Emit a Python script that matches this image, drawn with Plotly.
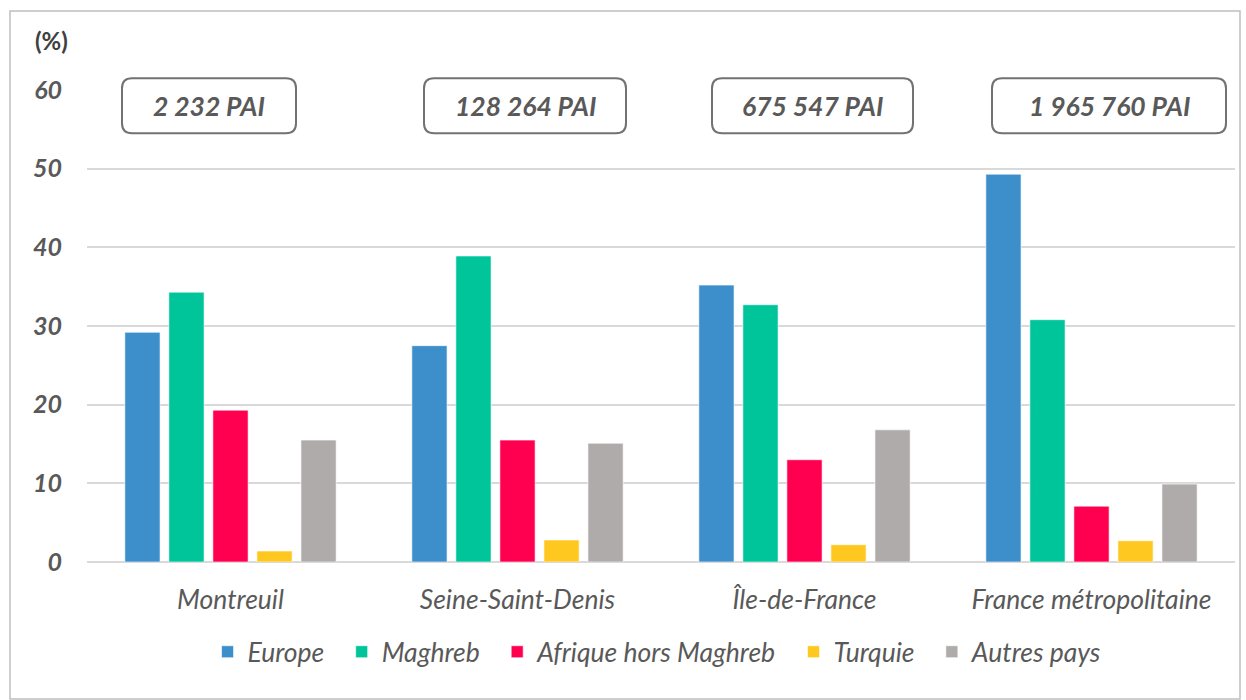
import plotly.graph_objects as go

# Population data: share of immigrants (PAI) by origin, in %
territoires = ["Montreuil", "Seine-Saint-Denis", "Île-de-France", "France métropolitaine"]
effectifs = ["2 232 PAI", "128 264 PAI", "675 547 PAI", "1 965 760 PAI"]

europe = [29.2, 27.5, 35.2, 49.3]
maghreb = [34.3, 38.9, 32.7, 30.8]
afrique = [19.3, 15.5, 13.0, 7.1]
turquie = [1.4, 2.8, 2.2, 2.7]
autres = [15.5, 15.1, 16.8, 9.9]

series = [
    ("Europe", europe, "#3D8FCB"),
    ("Maghreb", maghreb, "#00C49A"),
    ("Afrique hors Maghreb", afrique, "#FF0050"),
    ("Turquie", turquie, "#FFC820"),
    ("Autres pays", autres, "#AFABAA"),
]

W, H = 1246, 700
ML, MR, MT, MB = 87, 11, 90, 138
PW, PH = W - ML - MR, H - MT - MB

FONT = "Lato, 'Open Sans', sans-serif"
GREY = "#595959"
PAD = "\u00a0\u00a0"  # extra spacing between legend entries

fig = go.Figure()
for k, (name, vals, col) in enumerate(series):
    fig.add_trace(go.Bar(
        x=territoires, y=vals, name=name + (PAD if k < len(series) - 1 else ""),
        marker=dict(color=col, line=dict(color="rgba(255,255,255,0.6)", width=1)),
    ))


def px_x(p):
    return (p - ML) / PW


def px_y(p):
    return (H - MB - p) / PH


shapes = []
# outer frame of the chart
shapes.append(dict(type="rect", xref="paper", yref="paper",
                   x0=px_x(10), x1=px_x(1240), y0=px_y(699), y1=px_y(11),
                   line=dict(color="#BFBFBF", width=1.5), fillcolor="rgba(0,0,0,0)",
                   layer="below"))

# rounded boxes with population counts above each group
box_w = [174, 202, 201, 234]
box_dx = [-21.5, 7.5, 8, 17.5]
box_h = 55
box_cy = 58.0
annotations = []
n = len(territoires)
for i, label in enumerate(effectifs):
    w, h, r = box_w[i], box_h, 10
    x0, x1 = -w / 2, w / 2
    y0, y1 = -h / 2, h / 2
    path = (f"M{x0 + r},{y0} L{x1 - r},{y0} Q{x1},{y0} {x1},{y0 + r} "
            f"L{x1},{y1 - r} Q{x1},{y1} {x1 - r},{y1} L{x0 + r},{y1} "
            f"Q{x0},{y1} {x0},{y1 - r} L{x0},{y0 + r} Q{x0},{y0} {x0 + r},{y0} Z")
    cx = (i + 0.5) / n + box_dx[i] / PW
    cy = box_cy / 60
    shapes.append(dict(type="path", xref="paper", yref="paper",
                       xsizemode="pixel", ysizemode="pixel",
                       xanchor=cx, yanchor=cy, path=path,
                       line=dict(color="#767171", width=2), fillcolor="white",
                       layer="above"))
    annotations.append(dict(x=cx, y=cy, xref="paper", yref="paper", text=f"<b><i>{label}</i></b>",
                            xanchor="center", yanchor="middle", showarrow=False,
                            font=dict(family=FONT, size=26.5, color=GREY)))

annotations.append(dict(x=px_x(33), y=px_y(40), xref="paper", yref="paper", text="<b>(%)</b>",
                        showarrow=False, xanchor="left", yanchor="middle",
                        font=dict(family=FONT, size=24, color="#404040")))

fig.update_layout(
    width=W, height=H,
    margin=dict(l=ML, r=MR, t=MT, b=MB),
    paper_bgcolor="white", plot_bgcolor="white",
    barmode="group", bargap=0.233, bargroupgap=0.2,
    font=dict(family=FONT, color=GREY),
    shapes=shapes, annotations=annotations,
    legend=dict(orientation="h", x=0.497, xanchor="center", y=px_y(652), yanchor="middle",
                font=dict(family=FONT, size=26.5, color=GREY, style="italic"),
                itemclick=False, traceorder="normal", itemwidth=30),
    xaxis=dict(showgrid=False, showline=False, ticks="",
               tickfont=dict(family=FONT, size=26.5, color=GREY, style="italic"),
               ticklabelstandoff=19),
    yaxis=dict(range=[0, 60], dtick=10, showgrid=True, gridcolor="#D9D9D9", gridwidth=2,
               zeroline=True, zerolinecolor="#D9D9D9", zerolinewidth=2,
               tickfont=dict(family=FONT, size=25, color=GREY, weight="bold", style="italic"),
               ticklabelstandoff=24),
)

fig.write_html("out.html")
